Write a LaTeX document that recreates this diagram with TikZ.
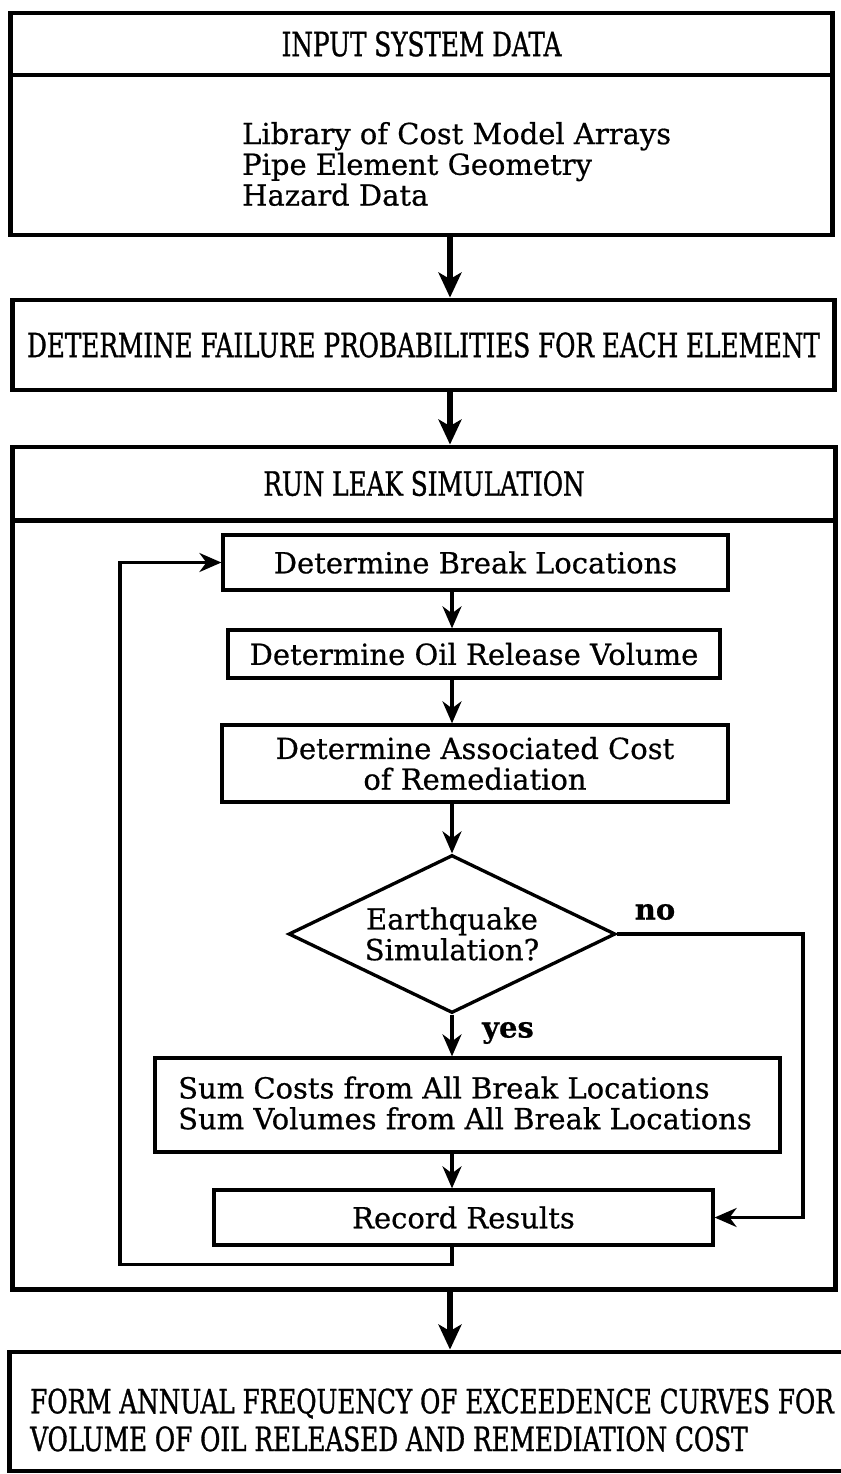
\documentclass[tikz,border=0pt]{standalone}
\usepackage{fontspec}
\setmainfont{DejaVu Serif}[FakeBold=0.6]
\newfontfamily\capsfont[FakeStretch=0.74, FakeBold=0.9]{DejaVu Serif}
\usetikzlibrary{arrows.meta,shapes.geometric}

\begin{document}
\begin{tikzpicture}[x=0.02cm, y=-0.02cm,
  outerbox/.style={draw, line width=2.8pt, inner sep=0pt},
  stepbox/.style={draw, line width=1.9pt, inner sep=0pt},
  heading/.style={font=\capsfont\fontsize{19}{21.5}\selectfont},
  body/.style={font=\fontsize{16.5}{17.5}\selectfont},
  bigflow/.style={line width=3.4pt, -{Stealth[length=5mm,width=4.6mm,inset=1.3mm]}},
  flow/.style={line width=1.8pt, -{Stealth[length=4.4mm,width=3.8mm,inset=1.4mm]}}]
  \useasboundingbox (0,0) rectangle (841,1474);
  % --- input block ---
  \node[outerbox, heading, minimum width=16.46cm, minimum height=1.24cm] (inputhead) at (421.5,44) {INPUT SYSTEM DATA};
  \node[outerbox, minimum width=16.46cm, minimum height=3.2cm] (inputbody) at (421.5,155) {};
  \node[body, align=left, anchor=west] (inputlist) at (236,164) {Library of Cost Model Arrays\\Pipe Element Geometry\\Hazard Data};
  % --- failure probabilities ---
  \node[outerbox, heading, minimum width=16.46cm, minimum height=1.8cm] (failure) at (423.5,345) {DETERMINE FAILURE PROBABILITIES FOR EACH ELEMENT};
  % --- leak simulation frame ---
  \node[outerbox, heading, minimum width=16.48cm, minimum height=1.46cm] (leakhead) at (424,483.5) {RUN LEAK SIMULATION};
  \node[outerbox, minimum width=16.48cm, minimum height=15.4cm] (leakbody) at (424,905) {};
  % inner loop
  \node[stepbox, body, minimum width=10.1cm, minimum height=1.1cm] (breaks) at (475.5,562.5) {Determine Break Locations};
  \node[stepbox, body, minimum width=9.84cm, minimum height=0.96cm] (release) at (474,654) {Determine Oil Release Volume};
  \node[stepbox, body, align=center, minimum width=10.12cm, minimum height=1.54cm] (remedy) at (475,763.5) {Determine Associated Cost\\of Remediation};
  \node[diamond, draw, line width=1.9pt, aspect=2, inner sep=0pt, body, align=center,
        minimum width=6.54cm, minimum height=3.16cm] (quake) at (452,934) {Earthquake\\Simulation?};
  \node[stepbox, minimum width=12.5cm, minimum height=1.88cm] (sums) at (467.5,1105) {};
  \node[body, align=left, anchor=west] (sumtext) at (172,1103) {Sum Costs from All Break Locations\\Sum Volumes from All Break Locations};
  \node[stepbox, body, minimum width=9.98cm, minimum height=1.1cm] (record) at (463.5,1217.5) {Record Results};
  \node[body, font=\bfseries\fontsize{16.5}{17.5}\selectfont] (nolabel) at (655,912) {no};
  \node[body, font=\bfseries\fontsize{16.5}{17.5}\selectfont] (yeslabel) at (508,1033) {yes};
  % --- exceedence curves ---
  \node[outerbox, minimum width=16.9cm, minimum height=2.38cm] (curves) at (432,1411.5) {};
  \node[heading, align=left, anchor=west] (curvetext) at (24,1420) {FORM ANNUAL FREQUENCY OF EXCEEDENCE CURVES FOR\\VOLUME OF OIL RELEASED AND REMEDIATION COST};
  % connectors
  \coordinate (bigaxis) at (450,0);
  \coordinate (axis) at (452,0);
  \coordinate (noside) at (803,0);
  \coordinate (loopside) at (120,0);
  \draw[bigflow] (inputbody.south -| bigaxis) -- (failure.north -| bigaxis);
  \draw[bigflow] (failure.south -| bigaxis) -- (leakhead.north -| bigaxis);
  \draw[bigflow] (leakbody.south -| bigaxis) -- (curves.north -| bigaxis);
  \draw[flow] (breaks.south -| axis) -- (release.north -| axis);
  \draw[flow] (release.south -| axis) -- (remedy.north -| axis);
  \draw[flow] (remedy.south -| axis) -- (quake.north);
  \draw[flow] (quake.south) -- (sums.north -| axis);
  \draw[flow] (sums.south -| axis) -- (record.north -| axis);
  \draw[flow] (quake.east) -| (noside |- record.east) -- (record.east);
  \draw[flow] (record.south -| axis) -- ++(0,18) -| (loopside |- breaks.west) -- (breaks.west);
\end{tikzpicture}
\end{document}
